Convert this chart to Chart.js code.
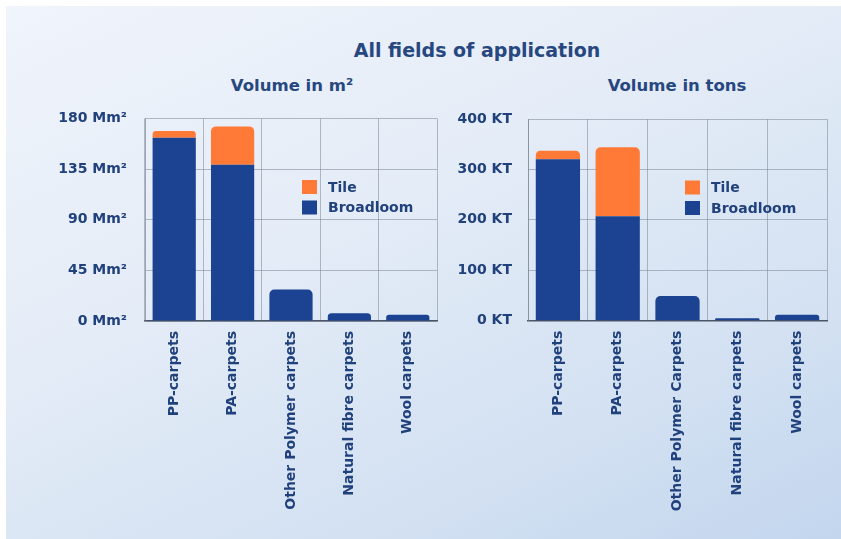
<!DOCTYPE html>
<html>
<head>
<meta charset="utf-8">
<script src="https://cdn.jsdelivr.net/npm/chart.js@4/dist/chart.umd.min.js"></script>
<style>
  html, body { margin: 0; padding: 0; background: #ffffff; }
  body { width: 841px; height: 539px; position: relative; overflow: hidden; font-family: "DejaVu Sans", sans-serif; }
  #panel {
    position: absolute; left: 6px; top: 6px; width: 835px; height: 533px;
    background: linear-gradient(155deg, #f0f4fb 0%, #e4ecf7 40%, #d3e1f2 75%, #c3d6ee 100%);
  }
  .title { position: absolute; color: #274780; font-weight: bold; white-space: nowrap; transform: translate(-50%, -50%); }
  #mainTitle { left: 477px; top: 50px; font-size: 19px; }
  #subLeft { left: 292px; top: 85px; font-size: 16.5px; }
  #subRight { left: 677px; top: 85px; font-size: 16.5px; }
  canvas { position: absolute; }
  #chartM2 { left: 40px; top: 100px; }
  #chartKT { left: 440px; top: 100px; }
</style>
</head>
<body>
<div id="panel"></div>
<div class="title" id="mainTitle">All fields of application</div>
<div class="title" id="subLeft">Volume in m²</div>
<div class="title" id="subRight">Volume in tons</div>
<canvas id="chartM2" width="405" height="430"></canvas>
<canvas id="chartKT" width="400" height="430"></canvas>
<script>
// Carpet categories (the tons chart capitalises "Carpets" for the third one)
const categoriesM2 = ['PP-carpets', 'PA-carpets', 'Other Polymer carpets', 'Natural fibre carpets', 'Wool carpets'];
const categoriesKT = ['PP-carpets', 'PA-carpets', 'Other Polymer Carpets', 'Natural fibre carpets', 'Wool carpets'];

// Volume in million m²
const broadloomM2 = [163, 139, 28, 7, 5.5];
const tileM2 = [6, 34, 0, 0, 0];

// Volume in kilotons
const broadloomKT = [320, 207, 49, 5, 12];
const tileKT = [17, 137, 0, 0, 0];

// Value axis ticks
const ticksM2 = [0, 45, 90, 135, 180];
const ticksKT = [0, 100, 200, 300, 400];

const NAVY = '#1b4391';
const ORANGE = '#fe7a36';
const TEXT = '#21417c';
const FONT = 'DejaVu Sans';

// Legend drawn inside the plot area, Tile listed above Broadloom
const innerLegend = {
  id: 'innerLegend',
  afterDraw(chart) {
    const { ctx, chartArea } = chart;
    const x = chartArea.left + 157;
    const y0 = chartArea.top + 68.5;
    const items = chart.data.datasets.slice().reverse();
    ctx.save();
    ctx.font = 'bold 14px "' + FONT + '"';
    ctx.textBaseline = 'middle';
    ctx.textAlign = 'left';
    items.forEach((ds, i) => {
      const cy = y0 + i * 20.5;
      ctx.fillStyle = ds.backgroundColor;
      ctx.fillRect(x, cy - 7, 15, 14);
      ctx.fillStyle = TEXT;
      ctx.fillText(ds.label, x + 26, cy + 1);
    });
    ctx.restore();
  }
};

function makeChart(id, labels, broadloom, tile, ticks, unit, yWidth, padTop, padRight, xHeight, tickPad) {
  const maxV = ticks[ticks.length - 1];
  const step = ticks[1] - ticks[0];
  return new Chart(document.getElementById(id), {
    type: 'bar',
    data: {
      labels: labels,
      datasets: [
        {
          label: 'Broadloom',
          data: broadloom,
          backgroundColor: NAVY,
          borderSkipped: 'start',
          borderRadius: (c) => (tile[c.dataIndex] ? 0 : { topLeft: 5, topRight: 5, bottomLeft: 0, bottomRight: 0 })
        },
        {
          label: 'Tile',
          data: tile,
          backgroundColor: ORANGE,
          borderSkipped: 'start',
          borderRadius: { topLeft: 5, topRight: 5, bottomLeft: 0, bottomRight: 0 }
        }
      ]
    },
    options: {
      responsive: false,
      animation: false,
      events: [],
      layout: { padding: { top: padTop, right: padRight, left: 0, bottom: 0 } },
      datasets: { bar: { categoryPercentage: 1, barPercentage: 0.74 } },
      plugins: { legend: { display: false }, tooltip: { enabled: false } },
      scales: {
        x: {
          stacked: true,
          grid: { offset: true, color: 'rgba(125,135,150,0.55)', lineWidth: 1, drawTicks: false },
          border: { color: '#4a5566', width: 1.5 },
          afterFit: (s) => { s.height = xHeight; },
          ticks: {
            color: TEXT,
            font: { family: FONT, size: 14, weight: 'bold' },
            maxRotation: 90, minRotation: 90, autoSkip: false, padding: 10
          }
        },
        y: {
          stacked: true,
          min: 0, max: maxV,
          grid: { color: 'rgba(125,135,150,0.55)', lineWidth: 1, drawTicks: false },
          border: { color: 'rgba(125,135,150,0.7)', width: 1 },
          afterFit: (s) => { s.width = yWidth; s.paddingTop = 0; s.paddingBottom = 0; },
          afterBuildTicks: (s) => { s.ticks = ticks.map(v => ({ value: v })); },
          ticks: {
            stepSize: step,
            color: TEXT,
            padding: tickPad,
            font: { family: FONT, size: 14, weight: 'bold' },
            callback: (v) => v + unit
          }
        }
      }
    },
    plugins: [innerLegend]
  });
}

makeChart('chartM2', categoriesM2, broadloomM2, tileM2, ticksM2, ' Mm²', 105, 18.5, 8, 209, 18);
makeChart('chartKT', categoriesKT, broadloomKT, tileKT, ticksKT, ' KT', 88, 19, 13, 209.3, 16);
</script>
</body>
</html>
